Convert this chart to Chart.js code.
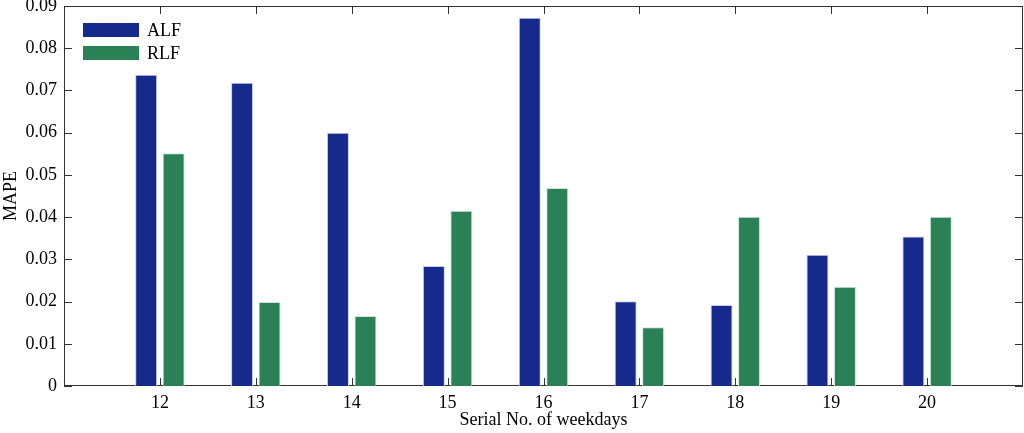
<!DOCTYPE html>
<html>
<head>
<meta charset="utf-8">
<script src="https://cdn.jsdelivr.net/npm/chart.js@4.4.1/dist/chart.umd.min.js"></script>
<style>
  html, body { margin: 0; padding: 0; background: #fff; }
  #wrap { width: 1024px; height: 433px; }
</style>
</head>
<body>
<div id="wrap"><canvas id="c" width="1024" height="433"></canvas></div>
<script>
// categories (11 and 21 are empty padding slots, like the reference x range)
var days = ['11', '12', '13', '14', '15', '16', '17', '18', '19', '20', '21'];
var alf = [null, 0.0737, 0.0718, 0.0600, 0.0284, 0.0872, 0.0201, 0.0192, 0.0311, 0.0354, null];
var rlf = [null, 0.0551, 0.0199, 0.0166, 0.0415, 0.0469, 0.0139, 0.0401, 0.0235, 0.0401, null];
var yTicks = [0, 0.01, 0.02, 0.03, 0.04, 0.05, 0.06, 0.07, 0.08, 0.09];

var FONT = 'Liberation Serif, Times New Roman, serif';
var AXIS = '#333333';

// frame + inward ticks like a matlab axes box
var boxPlugin = {
  id: 'box',
  beforeDatasetsDraw: function (chart) {
    var ctx = chart.ctx, a = chart.chartArea;
    var xs = chart.scales.x, ys = chart.scales.y;
    ctx.save();
    ctx.strokeStyle = AXIS;
    ctx.lineWidth = 1;
    ctx.strokeRect(a.left + 0.5, a.top + 0.5, a.right - a.left - 1, a.bottom - a.top - 1);
    ctx.beginPath();
    yTicks.forEach(function (v) {
      var y = Math.round(ys.getPixelForValue(v)) + 0.5;
      ctx.moveTo(a.left, y); ctx.lineTo(a.left + 8, y);
      ctx.moveTo(a.right, y); ctx.lineTo(a.right - 8, y);
    });
    for (var i = 1; i < days.length - 1; i++) {
      var x = Math.round(xs.getPixelForValue(i)) + 0.5;
      ctx.moveTo(x, a.bottom); ctx.lineTo(x, a.bottom - 8);
      ctx.moveTo(x, a.top); ctx.lineTo(x, a.top + 8);
    }
    ctx.stroke();
    ctx.restore();
  },
  afterDraw: function (chart) {
    // legend in the top-left corner
    var ctx = chart.ctx, a = chart.chartArea;
    ctx.save();
    ctx.font = '18px ' + FONT;
    ctx.textBaseline = 'middle';
    chart.data.datasets.forEach(function (ds, i) {
      var y = a.top + 17 + i * 23;
      ctx.fillStyle = ds.backgroundColor;
      ctx.fillRect(a.left + 19, y, 56, 14);
      ctx.fillStyle = '#000';
      ctx.fillText(ds.label, a.left + 83, y + 8);
    });
    ctx.restore();
  }
};

new Chart(document.getElementById('c'), {
  type: 'bar',
  data: {
    labels: days,
    datasets: [
      { label: 'ALF', data: alf, backgroundColor: '#152a8a', borderColor: '#c8cce8', borderWidth: 1 },
      { label: 'RLF', data: rlf, backgroundColor: '#2a8156', borderColor: '#cfe6da', borderWidth: 1 }
    ]
  },
  options: {
    responsive: false,
    animation: false,
    layout: { padding: { top: 6, right: 1, left: 0, bottom: 0 } },
    datasets: { bar: { categoryPercentage: 0.573, barPercentage: 0.8 } },
    plugins: { legend: { display: false }, tooltip: { enabled: false } },
    scales: {
      x: {
        offset: false,
        grid: { display: false, drawTicks: false },
        border: { display: false },
        ticks: {
          color: '#000', font: { family: FONT, size: 18 }, padding: 6, maxRotation: 0, autoSkip: false,
          callback: function (v, i) { return (i === 0 || i === days.length - 1) ? '' : days[i]; }
        },
        title: { display: true, text: 'Serial No. of weekdays', color: '#000', font: { family: FONT, size: 18 }, padding: { top: 0, bottom: 2 } },
        afterFit: function (s) { s.height = 47; s.paddingLeft = 0; s.paddingRight = 0; }
      },
      y: {
        min: 0, max: 0.09,
        grid: { display: false, drawTicks: false },
        border: { display: false },
        ticks: {
          stepSize: 0.01, color: '#000', font: { family: FONT, size: 18 }, padding: 7,
          callback: function (v) { var r = Math.round(v * 100) / 100; return r === 0 ? '0' : r.toFixed(2); }
        },
        title: { display: true, text: 'MAPE', color: '#000', font: { family: FONT, size: 18 }, padding: { top: 0, bottom: 0 } },
        afterFit: function (s) { s.width = 64; s.paddingTop = 0; s.paddingBottom = 0; }
      }
    }
  },
  plugins: [boxPlugin]
});
</script>
</body>
</html>
